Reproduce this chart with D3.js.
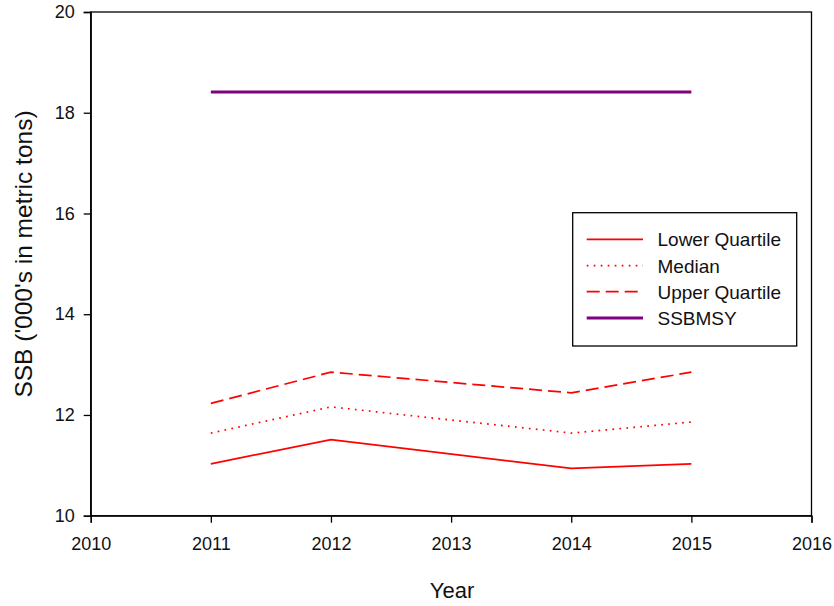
<!DOCTYPE html>
<html>
<head>
<meta charset="utf-8">
<script src="https://cdn.jsdelivr.net/npm/d3@7"></script>
<style>
  html, body { margin: 0; padding: 0; background: #fff; }
  svg { display: block; font-family: Arial, "Liberation Sans", sans-serif; }
</style>
</head>
<body>
<svg id="chart" width="834" height="606"></svg>
<script>
// Projected spawning stock biomass by year
const years = [2011, 2012, 2014, 2015];
const lowerQuartile = [11.03, 11.51, 10.94, 11.03];
const median = [11.64, 12.16, 11.64, 11.86];
const upperQuartile = [12.23, 12.85, 12.44, 12.85];
const ssbmsy = [18.41, 18.41, 18.41, 18.41];
const xTicks = [2010, 2011, 2012, 2013, 2014, 2015, 2016];
const yTicks = [10, 12, 14, 16, 18, 20];

const seriesDefs = [
  { name: "Lower Quartile", values: lowerQuartile, color: "#ff0000", width: 1.7, dash: null },
  { name: "Median", values: median, color: "#ff0000", width: 1.7, dash: "1.7,5.3" },
  { name: "Upper Quartile", values: upperQuartile, color: "#ff0000", width: 1.7, dash: "13,6" },
  { name: "SSBMSY", values: ssbmsy, color: "#800080", width: 3, dash: null }
];

const svg = d3.select("#chart");
const plotLeft = 90.7, plotRight = 811.5, plotTop = 12, plotBottom = 515.7;

const x = d3.scaleLinear().domain([2010, 2016]).range([plotLeft, plotRight]);
const y = d3.scaleLinear().domain([10, 20]).range([plotBottom, plotTop]);

// frame
svg.append("rect")
  .attr("x", plotLeft).attr("y", plotTop)
  .attr("width", plotRight - plotLeft).attr("height", plotBottom - plotTop)
  .attr("fill", "none").attr("stroke", "#000").attr("stroke-width", 1.3);

const xAxis = svg.append("g")
  .attr("transform", `translate(0,${plotBottom})`)
  .call(d3.axisBottom(x).tickValues(xTicks).tickFormat(d3.format("d")).tickSize(7).tickPadding(15));
const yAxis = svg.append("g")
  .attr("transform", `translate(${plotLeft},0)`)
  .call(d3.axisLeft(y).tickValues(yTicks).tickSize(7).tickPadding(9));

[xAxis, yAxis].forEach(g => {
  g.attr("font-family", null).attr("font-size", null);
  g.select(".domain").attr("stroke", "#000").attr("stroke-width", 1.3);
  g.selectAll(".tick line").attr("stroke", "#000").attr("stroke-width", 1.3);
  g.selectAll(".tick text").attr("fill", "#111").style("font-size", "18px");
});

// series lines
const line = d3.line()
  .x((d, i) => x(years[i]))
  .y(d => y(d));

seriesDefs.forEach(s => {
  svg.append("path")
    .datum(s.values)
    .attr("d", line)
    .attr("fill", "none")
    .attr("stroke", s.color)
    .attr("stroke-width", s.width)
    .attr("stroke-dasharray", s.dash);
});

// axis titles
svg.append("text")
  .attr("x", 452).attr("y", 598)
  .attr("text-anchor", "middle")
  .style("font-size", "22px").attr("fill", "#111")
  .text("Year");

svg.append("text")
  .attr("transform", `translate(32,254) rotate(-90)`)
  .attr("text-anchor", "middle")
  .style("font-size", "24.5px").attr("fill", "#111")
  .text("SSB ('000's in metric tons)");

// legend
const legend = svg.append("g");
legend.append("rect")
  .attr("x", 572.7).attr("y", 212.7)
  .attr("width", 224).attr("height", 133.3)
  .attr("fill", "#fff").attr("stroke", "#000").attr("stroke-width", 1.3);

const rowY = [239.3, 265.7, 291.7, 318];
seriesDefs.forEach((s, i) => {
  legend.append("line")
    .attr("x1", 586.7).attr("x2", 643)
    .attr("y1", rowY[i]).attr("y2", rowY[i])
    .attr("stroke", s.color)
    .attr("stroke-width", s.width)
    .attr("stroke-dasharray", s.dash);
  legend.append("text")
    .attr("x", 657.5).attr("y", rowY[i])
    .attr("dy", "0.36em")
    .style("font-size", "19px").attr("fill", "#111")
    .text(s.name);
});
</script>
</body>
</html>
